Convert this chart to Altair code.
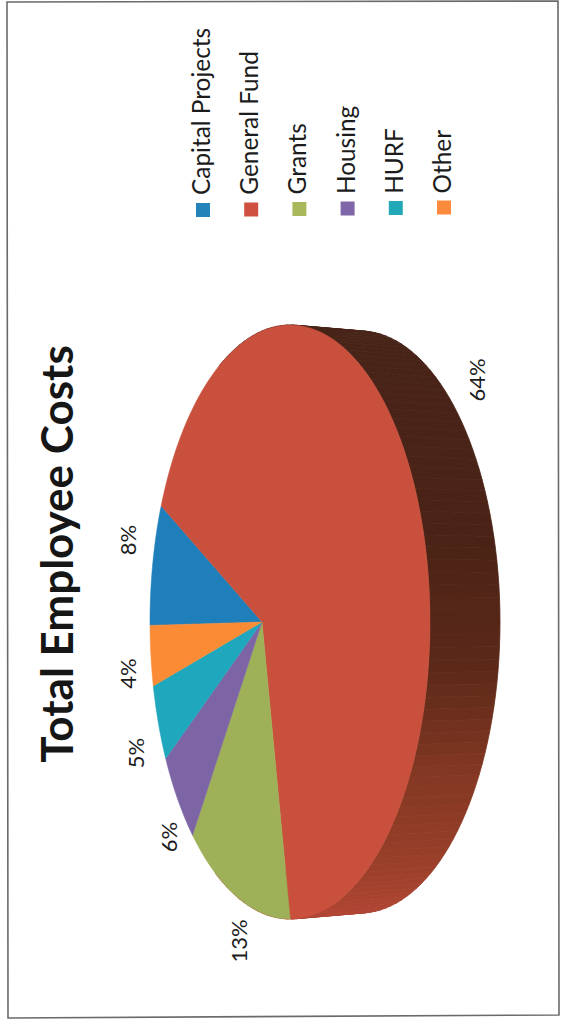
import math
import altair as alt

# Budget shares, in legend order
categories = ["Capital Projects", "General Fund", "Grants", "Housing", "HURF", "Other"]
shares = [8, 64, 13, 6, 5, 4]
slice_colors = ["#1f7fba", "#c9503c", "#9fb158", "#7d64a5", "#1fa8bd", "#fb8b35"]
legend_colors = ["#2483b8", "#cf5040", "#a9b85a", "#7f66a8", "#21a9b8", "#fb8a3c"]

# Perspective model of the tilted disc
CX, CY = 262, 622
AX, BY, K = 134.4, 291.0, -0.2
DEPTH, SHRINK = 70, 0.98
FIRST_ANGLE = -0.8


def rim(theta_deg, dx=0.0, sy=1.0):
    """Screen position of a rim point; theta runs clockwise from the left."""
    t = math.radians(theta_deg)
    u, v = -math.cos(t), -math.sin(t)
    w = 1 + K * u
    return [CX + dx + AX * u / w, CY + sy * BY * v / w]


def feature(coords, **props):
    return {"type": "Feature", "properties": props,
            "geometry": {"type": "Polygon", "coordinates": [coords]}}


# Side wall of the disc, one thin strip per two degrees
wall = []
for a in range(70, 292, 2):
    ring = [rim(a), rim(a + 2), rim(a + 2, DEPTH, SHRINK), rim(a, DEPTH, SHRINK), rim(a)]
    wall.append(feature(ring, theta=a))

# Top face wedges, spanned from the shares
wedges = []
start = FIRST_ANGLE
for name, share in zip(categories, shares):
    end = start + share * 3.6
    steps = max(2, int(share * 2))
    arc = [rim(start + (end - start) * i / steps) for i in range(steps + 1)]
    wedges.append(feature([[CX, CY]] + arc + [[CX, CY]], name=name))
    start = end

PROJECTION = dict(type="identity", scale=1, translate=[0, 0])


def geo_layer(features):
    return alt.Chart(alt.Data(values=features)).project(**PROJECTION)


wall_scale = alt.Scale(domain=[70, 165, 185, 205, 240, 292],
                       range=["#45241a", "#4a2316", "#5a2819", "#843823", "#ab4430", "#b8483a"])
wall_layer = geo_layer(wall).mark_geoshape(strokeWidth=0.8).encode(
    color=alt.Color("properties.theta:Q", scale=wall_scale, legend=None),
    stroke=alt.Stroke("properties.theta:Q", scale=wall_scale, legend=None),
)

slice_scale = alt.Scale(domain=categories, range=slice_colors)
wedge_layer = geo_layer(wedges).mark_geoshape(strokeWidth=0.5).encode(
    color=alt.Color("properties.name:N", scale=slice_scale, legend=None),
    stroke=alt.Stroke("properties.name:N", scale=slice_scale, legend=None),
)

# Page frame
frame_ring = [[7, 2], [558, 1], [559, 1015], [8, 1018], [7, 2]]
frame_layer = geo_layer([feature(frame_ring)]).mark_geoshape(
    filled=False, stroke="#6a6a6a", strokeWidth=1.6
)

FONT = "Lato"

title_layer = geo_layer([{"t": "Total Employee Costs", "lon": 60, "lat": 554}]).mark_text(
    angle=270, font=FONT, fontWeight="bold", fontSize=44, color="#161616"
).encode(longitude="lon:Q", latitude="lat:Q", text="t:N")

# Percent labels
pct_rows = [
    {"t": "8%", "lon": 128.5, "lat": 540},
    {"t": "4%", "lon": 128.5, "lat": 673.5},
    {"t": "5%", "lon": 136.5, "lat": 753},
    {"t": "6%", "lon": 170, "lat": 837},
    {"t": "13%", "lon": 239.5, "lat": 941},
    {"t": "64%", "lon": 477.5, "lat": 380},
]
pct_layer = geo_layer(pct_rows).mark_text(
    angle=270, font=FONT, fontSize=22, color="#1c1c1c"
).encode(longitude="lon:Q", latitude="lat:Q", text="t:N")

# Hand-laid legend running across the page
legend_rows = [
    {"name": n, "lon": 203 + i * 48.2, "lat": 210 - i * 0.5, "tlat": 195 - i * 0.3}
    for i, n in enumerate(categories)
]
swatch_scale = alt.Scale(domain=categories, range=legend_colors)
swatch_layer = geo_layer(legend_rows).mark_square(size=196, opacity=1, filled=True).encode(
    longitude="lon:Q", latitude="lat:Q",
    color=alt.Color("name:N", scale=swatch_scale, legend=None),
)
legend_text = geo_layer(legend_rows).mark_text(
    angle=270, align="left", baseline="middle", font=FONT, fontSize=24.4, color="#1c1c1c"
).encode(longitude="lon:Q", latitude="tlat:Q", text="name:N")

chart = alt.layer(
    frame_layer, wall_layer, wedge_layer, title_layer, pct_layer, swatch_layer, legend_text
).resolve_scale(color="independent", stroke="independent").properties(
    width=566, height=1020, padding=0, autosize=alt.AutoSizeParams(type="none"), background="#ffffff"
).configure_view(stroke=None)

chart.save("out.html", embed_options={"renderer": "svg", "actions": False})
